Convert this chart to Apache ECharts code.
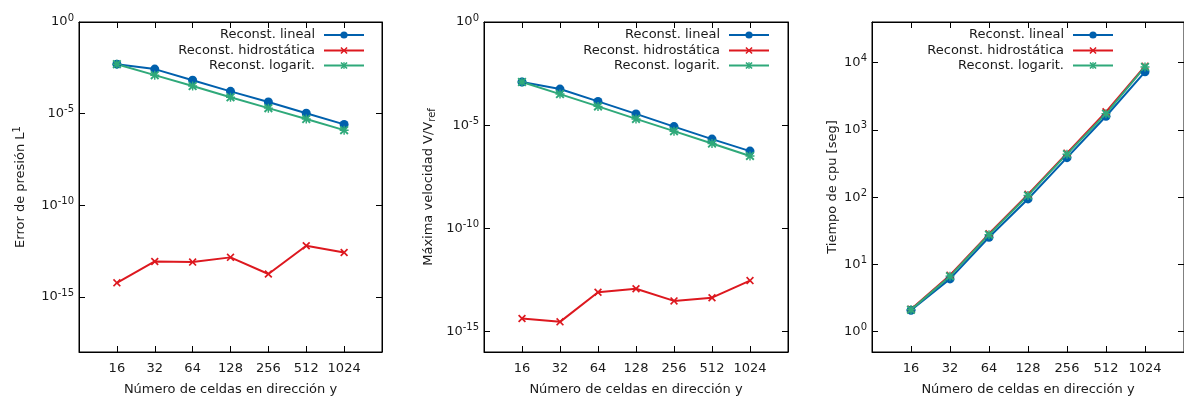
<!DOCTYPE html>
<html><head><meta charset="utf-8">
<script src="https://cdn.jsdelivr.net/npm/echarts@6/dist/echarts.min.js"></script>
<style>html,body{margin:0;padding:0;background:#fff}#c{width:1184px;height:401px}</style>
</head><body><div id="c"></div>
<script>
const cells = [16, 32, 64, 128, 256, 512, 1024];
const seriesNames = ['Reconst. lineal', 'Reconst. hidrostática', 'Reconst. logarit.'];
// Panel 1: Error de presión L1
const errLineal = [5.0e-3, 2.7e-3, 6.7e-4, 1.65e-4, 4.3e-5, 1.05e-5, 2.6e-6];
const errHidro  = [5.9e-15, 8.7e-14, 8.0e-14, 1.45e-13, 1.8e-14, 6.3e-13, 2.7e-13];
const errLog    = [5.0e-3, 1.26e-3, 3.2e-4, 7.8e-5, 2.0e-5, 5.1e-6, 1.26e-6];
// Panel 2: Máxima velocidad V/Vref
const velLineal = [1.23e-3, 5.6e-4, 1.41e-4, 3.5e-5, 8.5e-6, 2.1e-6, 5.5e-7];
const velHidro  = [4.2e-15, 2.9e-15, 7.9e-14, 1.17e-13, 3.0e-14, 4.3e-14, 2.9e-13];
const velLog    = [1.23e-3, 3.2e-4, 8.1e-5, 2.0e-5, 5.1e-6, 1.28e-6, 3.2e-7];
// Panel 3: Tiempo de cpu [seg]
const cpuLineal = [2.08, 6.1, 25.3, 94, 386, 1590, 7280];
const cpuHidro  = [2.15, 6.9, 28.5, 110, 450, 1850, 8800];
const cpuLog    = [2.13, 6.7, 27.7, 106, 435, 1740, 8600];
// tick values
const yTicks1 = [1e-15, 1e-10, 1e-5, 1];
const yTicks2 = [1e-15, 1e-10, 1e-5, 1];
const yTicks3 = [1, 10, 100, 1000, 10000];

const FONT = 'DejaVu Sans';
const colors = ['#0060ad', '#dd181f', '#2fa97a'];
const symX = 'path://M0,1.5L1.5,0L5,3.5L8.5,0L10,1.5L6.5,5L10,8.5L8.5,10L5,6.5L1.5,10L0,8.5L3.5,5Z';
const symAst = 'path://M0,1.5L1.5,0L4.2,2.7L4.2,0L5.8,0L5.8,2.7L8.5,0L10,1.5L7.3,4.2L10,4.2L10,5.8L7.3,5.8L10,8.5L8.5,10L5.8,7.3L5.8,10L4.2,10L4.2,7.3L1.5,10L0,8.5L2.7,5.8L0,5.8L0,4.2L2.7,4.2Z';
const symbols = ['circle', symX, symAst];
const symSizes = [9, 8, 9];

const grids = [
  {left: 79, width: 303, top: 22, bottom: 45},
  {left: 484, width: 304, top: 22, bottom: 45},
  {left: 872, width: 320, top: 22, bottom: 45}
];
const yRanges = [[1e-18, 1], [1e-16, 1], [0.5, 40000]];
const yTickSets = [yTicks1, yTicks2, yTicks3];
const yNames = ['Error de presión L{sup|1}', 'Máxima velocidad V/V{sub|ref}', 'Tiempo de cpu [seg]'];
const yNameGaps = [49, 47, 33];
const data = [[errLineal, errHidro, errLog], [velLineal, velHidro, velLog], [cpuLineal, cpuHidro, cpuLog]];
const legendRights = [819, 414, 70];
const legendTops = [28.5, 44, 59];

const txt = {fontFamily: FONT, fontSize: 13, color: '#1a1a1a'};
const supRich = {
  sup: {fontFamily: FONT, fontSize: 10, color: '#1a1a1a', padding: [0, 0, 8, 0]},
  sub: {fontFamily: FONT, fontSize: 10, color: '#1a1a1a', padding: [7, 0, 0, 0]}
};

const xAxes = [], yAxes = [], series = [], legends = [];
grids.forEach((g, i) => {
  const axLine = {show: true, onZero: false, lineStyle: {color: '#000', width: 1}};
  const xBase = {type: 'log', logBase: 2, min: 8, max: 2048, gridIndex: i, splitLine: {show: false}, minorTick: {show: false}};
  xAxes.push(Object.assign({}, xBase, {
    position: 'bottom', axisLine: axLine,
    axisTick: {show: true, inside: true, length: 6, lineStyle: {color: '#000'}, customValues: cells},
    axisLabel: Object.assign({}, txt, {margin: 10, customValues: cells, formatter: v => String(Math.round(v))}),
    name: 'Número de celdas en dirección y', nameLocation: 'middle', nameGap: 31,
    nameTextStyle: txt
  }));
  xAxes.push(Object.assign({}, xBase, {
    position: 'top', axisLine: axLine,
    axisTick: {show: true, inside: true, length: 6, lineStyle: {color: '#000'}, customValues: cells},
    axisLabel: {show: false}
  }));
  const yBase = {type: 'log', logBase: 10, min: yRanges[i][0], max: yRanges[i][1], gridIndex: i, splitLine: {show: false}, minorTick: {show: false}};
  yAxes.push(Object.assign({}, yBase, {
    position: 'left', axisLine: axLine,
    axisTick: {show: true, inside: true, length: 6, lineStyle: {color: '#000'}, customValues: yTickSets[i]},
    axisLabel: Object.assign({}, txt, {margin: 5, customValues: yTickSets[i],
      formatter: v => '10{sup|' + Math.round(Math.log10(v)) + '}', rich: supRich}),
    name: yNames[i], nameLocation: 'middle', nameGap: yNameGaps[i],
    nameTextStyle: Object.assign({}, txt, {rich: supRich})
  }));
  yAxes.push(Object.assign({}, yBase, {
    position: 'right', axisLine: axLine,
    axisTick: {show: true, inside: true, length: 6, lineStyle: {color: '#000'}, customValues: yTickSets[i]},
    axisLabel: {show: false}
  }));
  data[i].forEach((vals, k) => {
    series.push({
      name: seriesNames[k], type: 'line', xAxisIndex: 2 * i, yAxisIndex: 2 * i,
      data: cells.map((c, j) => [c, vals[j]]),
      symbol: symbols[k], symbolSize: symSizes[k], showSymbol: true,
      lineStyle: {color: colors[k], width: 2}, itemStyle: {color: colors[k]},
      animation: false, z: 3
    });
    legends.push({
      data: [seriesNames[k]], orient: 'horizontal', align: 'right',
      right: legendRights[i], top: legendTops[k], padding: 0,
      itemWidth: 40, itemHeight: 9, itemGap: 0,
      textStyle: Object.assign({}, txt, {padding: [0, 4, 0, 0]}),
      selectedMode: false
    });
  });
});

const chart = echarts.init(document.getElementById('c'));
chart.setOption({
  animation: false,
  backgroundColor: '#fff',
  grid: grids.map(g => Object.assign({show: true, borderColor: '#000', borderWidth: 1, containLabel: false}, g)),
  xAxis: xAxes, yAxis: yAxes, series: series, legend: legends
});
</script></body></html>
